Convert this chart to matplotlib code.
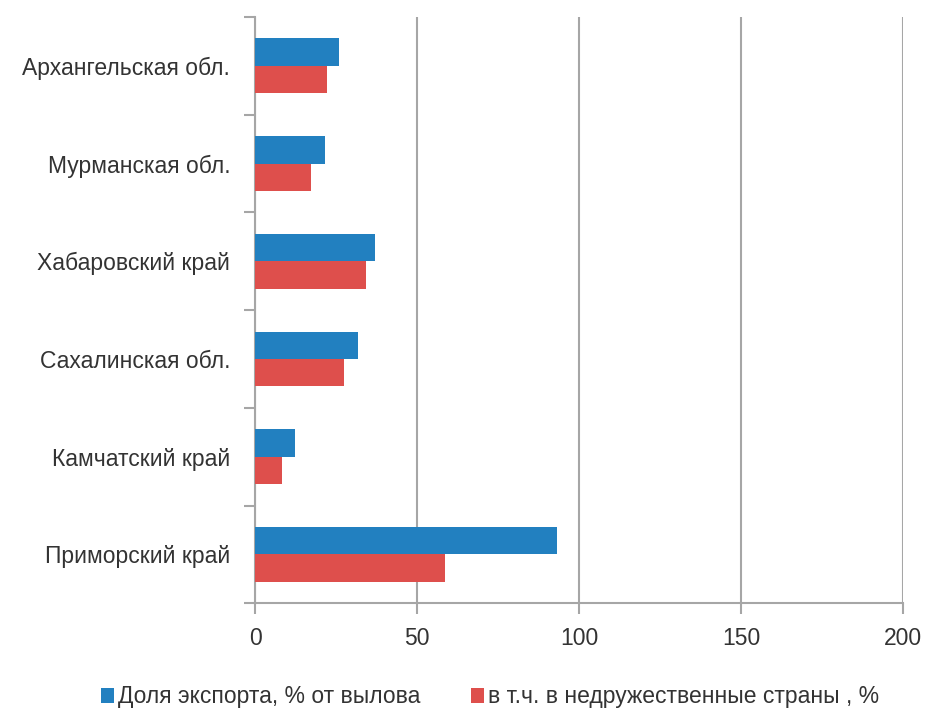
import numpy as np
import matplotlib.pyplot as plt

# Data (top to bottom)
regions = ['Архангельская обл.', 'Мурманская обл.', 'Хабаровский край',
           'Сахалинская обл.', 'Камчатский край', 'Приморский край']
export_share = [25.8, 21.5, 36.9, 31.8, 12.4, 93.1]
unfriendly_share = [22.3, 17.2, 34.1, 27.5, 8.1, 58.6]
x_ticks = [0, 50, 100, 150, 200]

plt.rcParams['font.family'] = ['Liberation Sans', 'DejaVu Sans']

fig = plt.figure(figsize=(9.25, 7.08), dpi=100)
ax = fig.add_axes([0.276, 0.148, 0.7, 0.828])

y = np.arange(len(regions))[::-1]
h = 0.28
ax.barh(y + h / 2, export_share, height=h, color='#2280c0',
        label='Доля экспорта, % от вылова', zorder=3)
ax.barh(y - h / 2, unfriendly_share, height=h, color='#de4f4c',
        label='в т.ч. в недружественные страны , %', zorder=3)

ax.set_xlim(0, 200)
ax.set_ylim(-0.5, len(regions) - 0.5)
ax.set_xticks(x_ticks)
ax.set_yticks(y)
ax.set_yticklabels(regions)
ax.set_yticks(np.arange(len(regions) + 1) - 0.5, minor=True)

grid_col = '#a6a6a6'
ax.grid(axis='x', color=grid_col, linewidth=1.5, zorder=0)
for s in ['top', 'right']:
    ax.spines[s].set_visible(False)
for s in ['left', 'bottom']:
    ax.spines[s].set_color(grid_col)
    ax.spines[s].set_linewidth(1.5)

ax.tick_params(axis='y', which='major', length=0, pad=18, labelsize=16.5,
               labelcolor='#333333')
ax.tick_params(axis='y', which='minor', length=8, width=1.5, color=grid_col)
ax.tick_params(axis='x', length=8, width=1.5, color=grid_col, labelsize=16.5,
               pad=9, labelcolor='#333333')

ax.legend(loc='upper center', bbox_to_anchor=(0.5 - 0.276 / 2 + 0.0, -0.105),
          ncol=2, frameon=False, fontsize=16.5, handlelength=0.6,
          handleheight=0.6, handletextpad=0.15, columnspacing=2.2,
          labelcolor='#333333')

plt.savefig('out.png', dpi=100)
